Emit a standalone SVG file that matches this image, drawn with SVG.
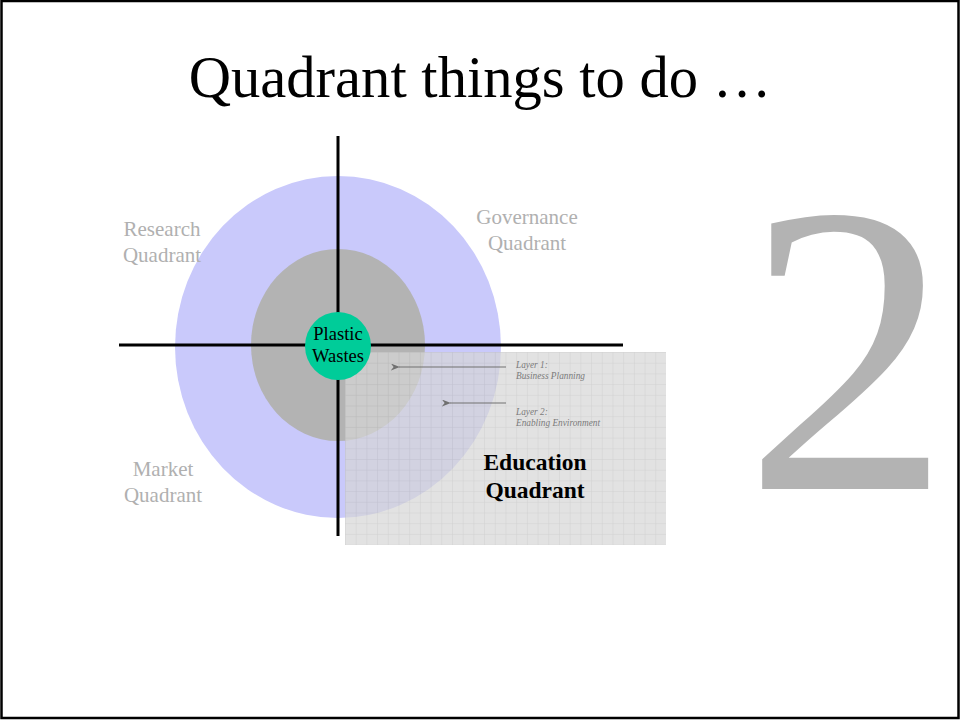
<svg xmlns="http://www.w3.org/2000/svg" width="960" height="720" viewBox="0 0 960 720">
<style>
.q{font-family:"Liberation Serif","Times New Roman",serif;font-size:21px;fill:#b0b0b0;text-anchor:middle}
.ly{font-family:"Liberation Serif","Times New Roman",serif;font-size:9.3px;font-style:italic;fill:#7a7a7a}
.ax{stroke:#000;stroke-width:3}
.ar{stroke:#707070;stroke-width:1.2;marker-end:url(#ah)}
.t{font-family:"Liberation Serif","Times New Roman",serif}
</style>
<defs>
<pattern id="grid" x="345" y="352" width="10.7" height="10.7" patternUnits="userSpaceOnUse">
<rect width="10.7" height="10.7" fill="#d6d6d6"/>
<path d="M0 0H10.7M0 0V10.7" stroke="#bcbcbc" stroke-width="1" fill="none"/>
</pattern>
<marker id="ah" viewBox="0 0 10 10" refX="1" refY="5" markerWidth="9" markerHeight="7" orient="auto" markerUnits="userSpaceOnUse" preserveAspectRatio="none">
<path d="M10 0L0 5L10 10L7 5Z" fill="#707070"/>
</marker>
</defs>
<rect x="0" y="0" width="960" height="720" fill="#fff"/>
<rect x="1.5" y="1" width="957" height="717" fill="none" stroke="#000" stroke-width="2.5"/>
<text class="t" x="480" y="97" font-size="58.6" text-anchor="middle" fill="#000">Quadrant things to do …</text>
<text class="t" x="744" y="489" font-size="414" fill="#b3b3b3">2</text>
<g id="outer"><ellipse cx="338" cy="347" rx="163" ry="171" fill="#c9c9fb"/></g>
<g id="inner"><ellipse cx="338" cy="345" rx="87" ry="96" fill="#b3b3b3"/></g>
<g id="education">
<rect x="345" y="352" width="321" height="193" fill="url(#grid)" opacity="0.7"/>
<text class="t" x="535" y="470" font-size="23.5" font-weight="bold" text-anchor="middle">Education</text>
<text class="t" x="535" y="498" font-size="23.5" font-weight="bold" text-anchor="middle">Quadrant</text>
</g>
<g id="axes">
<line class="ax" x1="338" y1="136" x2="338" y2="536"/>
<line class="ax" x1="119" y1="345" x2="623" y2="345"/>
</g>
<g id="center">
<ellipse cx="338" cy="346" rx="33" ry="34" fill="#00cc99"/>
<text class="t" x="338" y="340" font-size="18.5" text-anchor="middle">Plastic</text>
<text class="t" x="338" y="362" font-size="18.5" text-anchor="middle">Wastes</text>
</g>
<g id="research"><text class="q" x="162" y="236">Research</text><text class="q" x="162" y="262">Quadrant</text></g>
<g id="governance"><text class="q" x="527" y="224">Governance</text><text class="q" x="527" y="250">Quadrant</text></g>
<g id="market"><text class="q" x="163" y="476">Market</text><text class="q" x="163" y="502">Quadrant</text></g>
<g id="layer1"><text class="ly" x="516" y="368">Layer 1:</text><text class="ly" x="516" y="379">Business Planning</text></g>
<g id="layer2"><text class="ly" x="516" y="415">Layer 2:</text><text class="ly" x="516" y="426">Enabling Environment</text></g>
<g id="connectors">
<line class="ar" x1="506" y1="367" x2="399" y2="367"/>
<line class="ar" x1="506" y1="403" x2="450" y2="403"/>
</g>
</svg>
